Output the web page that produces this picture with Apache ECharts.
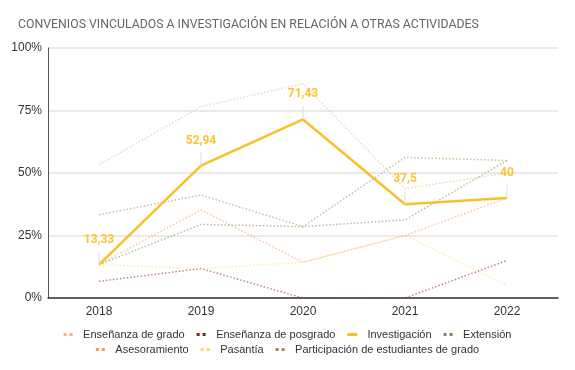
<!DOCTYPE html>
<html><head><meta charset="utf-8">
<script src="https://cdn.jsdelivr.net/npm/echarts@6/dist/echarts.min.js"></script>
<style>html,body{margin:0;padding:0;background:#fff}#c{width:575px;height:370px}</style>
</head><body><div id="c"></div>
<script>
const years = ['2018','2019','2020','2021','2022'];
const yTicks = ['0%','25%','50%','75%','100%'];
const ensenanzaGrado = [53.33, 76.47, 85.71, 43.75, 50];
const ensenanzaPosgrado = [6.67, 11.76, 0, 0, 15];
const investigacion = [13.33, 52.94, 71.43, 37.5, 40];
const extension = [13.33, 29.41, 28.57, 31.25, 55];
const asesoramiento = [13.33, 35.29, 14.29, 25, 40];
const pasantia = [13.33, 11.76, 14.29, 25, 5];
const participacion = [33.33, 41.18, 28.57, 56.25, 55];

const names = ['Enseñanza de grado','Enseñanza de posgrado','Investigación','Extensión','Asesoramiento','Pasantía','Participación de estudiantes de grado'];
const colors = ['#f6b183','#8c1d24','#f7c12a','#6f8f56','#f79a55','#fcd86a','#a58c4e'];
const values = [ensenanzaGrado, ensenanzaPosgrado, investigacion, extension, asesoramiento, pasantia, participacion];

const dotted = 'path://M0,0h3v3h-3zM6,0h3v3h-3z';
const series = values.map((v,i)=>{
  const inv = i===2;
  return {
    name: names[i], type:'line', data:v,
    symbol:'circle', symbolSize:0, color: colors[i],
    lineStyle: inv ? {width:2.5, color:colors[i]} : {width:1.5, type:[1.5,2], color:colors[i], opacity:0.55},
    itemStyle:{color:colors[i]},
    emphasis:{disabled:true},
    z: inv ? 5 : 2,
    label: inv ? {show:true, position:'top', distance:19, color:'#fbc531', fontSize:12, fontWeight:'bold', fontFamily:'Roboto',
      formatter: p => String(p.value).replace('.', ',')} : {show:false},
    labelLine: inv ? {show:true, lineStyle:{color:'#ddd', width:1}} : {show:false}
  };
});

const legendBase = {
  itemWidth:10, itemHeight:3, itemGap:12, left:'center',
  textStyle:{color:'#333', fontSize:11, fontFamily:'Liberation Sans, Arial', padding:[0,0,0,5]}
};
const mk = (idx, top) => Object.assign({}, legendBase, {
  top, data: idx.map(i=>({name:names[i], icon: i===2 ? 'rect' : dotted}))
});

const chart = echarts.init(document.getElementById('c'));
chart.setOption({
  animation:false,
  title:{text:'CONVENIOS VINCULADOS A INVESTIGACIÓN EN RELACIÓN A OTRAS ACTIVIDADES', left:13, top:14,
    textStyle:{color:'#666', fontSize:12.3, fontWeight:'normal', fontFamily:'Roboto'}},
  grid:{left:48, right:17, top:48, bottom:72},
  legend:[mk([0,1,2,3], 324), mk([4,5,6], 339)],
  xAxis:{type:'category', data:years, boundaryGap:true,
    axisLine:{lineStyle:{color:'#333', width:1.5}},
    axisTick:{alignWithLabel:true, length:5, lineStyle:{color:'#333'}},
    axisLabel:{color:'#333', fontSize:12, fontFamily:'Liberation Sans, Arial', margin:8}},
  yAxis:{type:'value', min:0, max:100, interval:25,
    axisLine:{show:true, lineStyle:{color:'#555', width:1}},
    axisTick:{show:false},
    axisLabel:{color:'#333', fontSize:12, fontFamily:'Liberation Sans, Arial', margin:6,
      formatter: v => yTicks[v/25]},
    splitLine:{lineStyle:{color:'#e3e3e3', width:1.5}}},
  series
});
</script></body></html>
